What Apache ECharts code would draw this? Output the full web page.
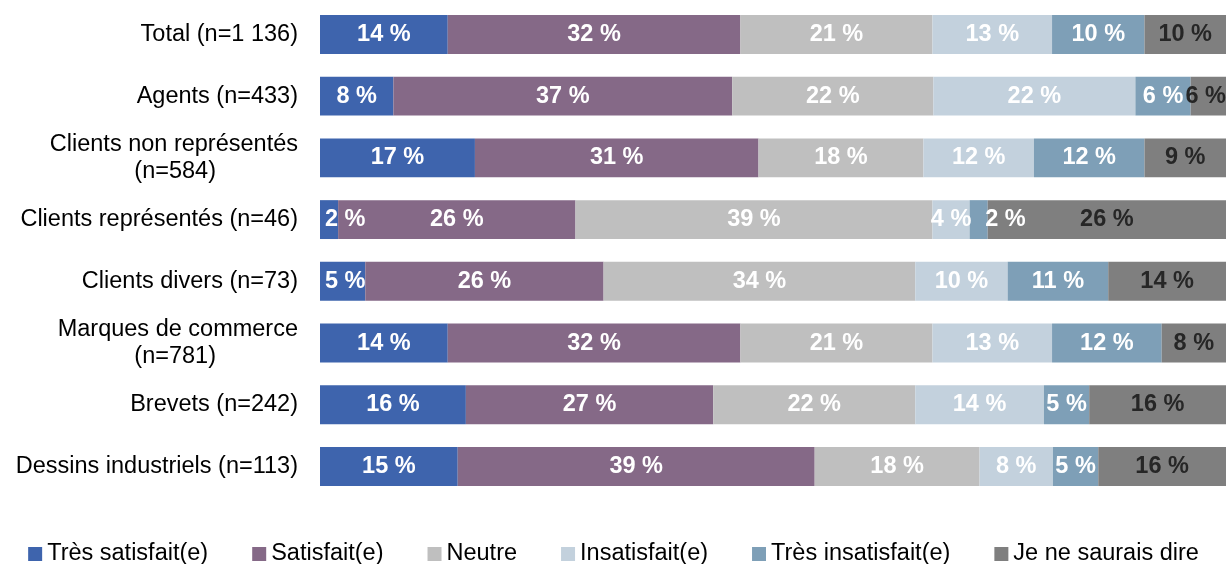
<!DOCTYPE html>
<html>
<head>
<meta charset="utf-8">
<script src="https://cdn.jsdelivr.net/npm/echarts@6/dist/echarts.min.js"></script>
<style>
  html, body { margin: 0; padding: 0; background: #fff; }
  #chart { width: 1227px; height: 564px; }
</style>
</head>
<body>
<div id="chart"></div>
<script>
// catégories (du haut vers le bas)
var categories = ['Total (n=1 136)', 'Agents (n=433)', 'Clients non représentés\n(n=584)',
    'Clients représentés (n=46)', 'Clients divers (n=73)', 'Marques de commerce\n(n=781)',
    'Brevets (n=242)', 'Dessins industriels (n=113)'];

// longueurs des segments
var tresSatisfait   = [14.1, 8.1, 17.1, 2.0, 5.0, 14.1, 16.1, 15.2];
var satisfait       = [32.3, 37.4, 31.3, 26.2, 26.3, 32.3, 27.3, 39.4];
var neutre          = [21.2, 22.2, 18.2, 39.4, 34.4, 21.2, 22.3, 18.2];
var insatisfait     = [13.2, 22.3, 12.2, 4.1, 10.2, 13.2, 14.2, 8.1];
var tresInsatisfait = [10.2, 6.1, 12.2, 2.0, 11.1, 12.1, 5.0, 5.0];
var neSaisPas       = [9.0, 3.9, 9.0, 26.3, 13.0, 7.1, 15.1, 14.1];

// étiquettes affichées (arrondies)
var lblTresSatisfait   = [14, 8, 17, 2, 5, 14, 16, 15];
var lblSatisfait       = [32, 37, 31, 26, 26, 32, 27, 39];
var lblNeutre          = [21, 22, 18, 39, 34, 21, 22, 18];
var lblInsatisfait     = [13, 22, 12, 4, 10, 13, 14, 8];
var lblTresInsatisfait = [10, 6, 12, 2, 11, 12, 5, 5];
var lblNeSaisPas       = [10, 6, 9, 26, 14, 8, 16, 16];

var names = ['Très satisfait(e)', 'Satisfait(e)', 'Neutre', 'Insatisfait(e)', 'Très insatisfait(e)', 'Je ne saurais dire'];
var values = [tresSatisfait, satisfait, neutre, insatisfait, tresInsatisfait, neSaisPas];
var labels = [lblTresSatisfait, lblSatisfait, lblNeutre, lblInsatisfait, lblTresInsatisfait, lblNeSaisPas];
var colors = ['#3e64ad', '#856987', '#bfbfbf', '#c3d1dd', '#7e9fb7', '#7f7f7f'];
var labelColors = ['#fff', '#fff', '#fff', '#fff', '#fff', '#262626'];

var font = '"Liberation Sans", Arial, sans-serif';
var gridLeft = 320;
var gridRight = 1226;

// les étiquettes trop larges sont poussées à droite, sans sortir du graphique
var lastRight = {};
function shiftLabel(p) {
    var r = p.labelRect;
    var minX = p.seriesIndex === 0 ? gridLeft + 5 : (lastRight[p.dataIndex] || 0) + 14;
    var dx = r.x < minX ? minX - r.x : 0;
    dx = Math.min(dx, gridRight - (r.x + r.width));
    lastRight[p.dataIndex] = r.x + dx + r.width;
    return { dx: dx };
}

var series = names.map(function (n, i) {
    return {
        name: n,
        type: 'bar',
        stack: 'all',
        barCategoryGap: '37%',
        itemStyle: { color: colors[i] },
        label: {
            show: true,
            position: 'inside',
            color: labelColors[i],
            fontFamily: font,
            fontWeight: 'bold',
            fontSize: 23.5,
            formatter: function (p) { return labels[i][p.dataIndex] + ' %'; }
        },
        labelLayout: shiftLabel,
        emphasis: { disabled: true },
        data: values[i]
    };
});

var chart = echarts.init(document.getElementById('chart'), null, { renderer: 'canvas' });
chart.setOption({
    animation: false,
    backgroundColor: '#fff',
    color: colors,
    grid: { left: gridLeft, right: 1, top: 3.6, bottom: 66.7, containLabel: false },
    xAxis: { type: 'value', min: 0, max: 100, show: false },
    yAxis: {
        type: 'category',
        inverse: true,
        data: categories,
        axisLine: { show: false },
        axisTick: { show: false },
        axisLabel: {
            margin: 22,
            color: '#000',
            fontFamily: font,
            fontSize: 23.5,
            lineHeight: 27,
            formatter: function (v) {
                var parts = v.split('\n');
                if (parts.length === 1) return v;
                return '{a|' + parts[0] + '}\n{b|' + parts[1] + '}';
            },
            rich: {
                a: { fontFamily: font, fontSize: 23.5, lineHeight: 27, color: '#000' },
                b: { fontFamily: font, fontSize: 23.5, lineHeight: 27, color: '#000', padding: [0, 82, 0, 0] }
            }
        }
    },
    legend: {
        data: names,
        left: 'center',
        top: 537,
        icon: 'rect',
        itemWidth: 14,
        itemHeight: 14,
        itemGap: 44,
        textStyle: { fontFamily: font, fontSize: 23.5, color: '#000' }
    },
    series: series
});
</script>
</body>
</html>
